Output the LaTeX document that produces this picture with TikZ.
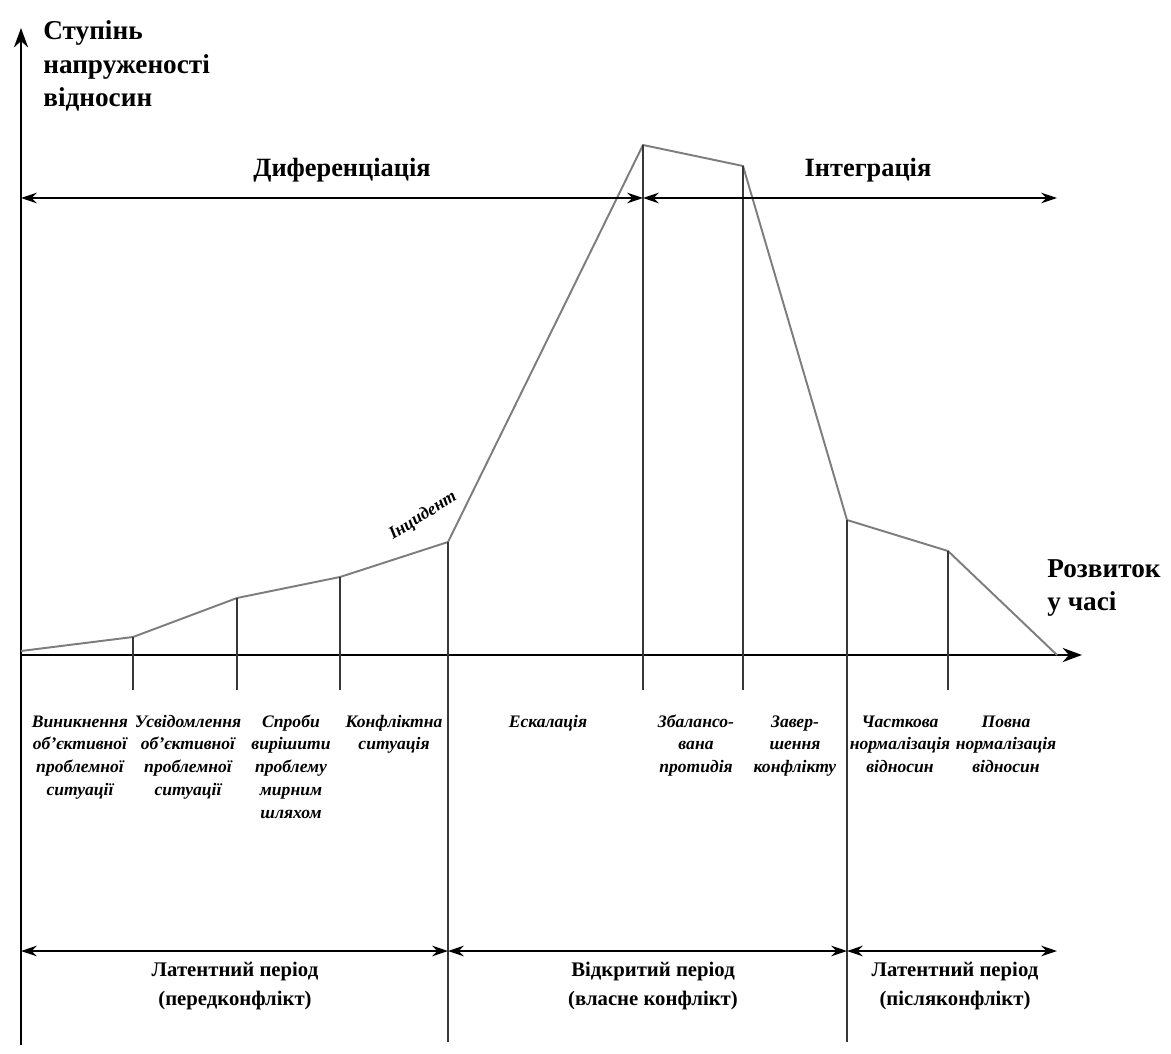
\documentclass[tikz,border=0pt]{standalone}
\usepackage{fontspec}
\setmainfont{Liberation Serif}
\usetikzlibrary{arrows.meta}
\definecolor{curvegray}{RGB}{125,125,125}
\definecolor{tickgray}{RGB}{55,55,55}

\begin{document}
\begin{tikzpicture}[
  x=0.2mm, y=-0.2mm,
  axis/.style={line width=1.6pt, -{Stealth[length=11pt,width=8pt]}},
  curve/.style={line width=1.1pt, draw=curvegray},
  tick/.style={line width=0.8pt, draw=tickgray},
  span/.style={line width=1.1pt, {Stealth[length=9pt,width=6pt]}-{Stealth[length=9pt,width=6pt]}},
  phase/.style={font=\bfseries\fontsize{15}{18}\selectfont},
  axislabel/.style={font=\bfseries\fontsize{15.5}{19}\selectfont, align=left, anchor=west, inner sep=0pt},
  stage/.style={font=\bfseries\itshape\fontsize{10}{13}\selectfont, align=center, anchor=base, inner sep=0pt},
  period/.style={font=\bfseries\fontsize{11.8}{16.5}\selectfont, align=center}
]
\useasboundingbox (0,0) rectangle (1171,1054);

% Axes
\coordinate (o) at (21,655);
\coordinate (ytop) at (21,28);
\coordinate (ybot) at (21,1045);
\coordinate (xend) at (1082,655);
\draw[axis] (ybot) -- (ytop);
\draw[axis] (o) -- (xend);
\node[axislabel] (ylab) at (43,66) {Ступінь\\напруженості\\відносин};
\node[axislabel] (xlab) at (1047,588) {Розвиток\\у часі};

% Tension curve
\coordinate (p0) at (21,651);
\coordinate (p1) at (133,637);
\coordinate (p2) at (237,598);
\coordinate (p3) at (340,577);
\coordinate (p4) at (448,542);
\coordinate (p5) at (643,145);
\coordinate (p6) at (743,166);
\coordinate (p7) at (847,520);
\coordinate (p8) at (948,551);
\coordinate (p9) at (1057,655);
\draw[curve] (p0) -- (p1) -- (p2) -- (p3) -- (p4) -- (p5) -- (p6) -- (p7) -- (p8) -- (p9);
\node[font=\bfseries\itshape\fontsize{10}{12}\selectfont, rotate=32, inner sep=1pt] (inc) at (423,516) {Інцидент};

% Stage borders
\foreach \i in {1,2,3,5,6,8}
  \draw[tick] (p\i) -- (p\i |- 0,690);
\coordinate (b4) at (448,1042);
\coordinate (b7) at (847,1042);
\draw[tick] (p4) -- (b4);
\draw[tick] (p7) -- (b7);

% Differentiation / integration
\coordinate (d0) at (21,198);
\coordinate (d1) at (643,198);
\coordinate (d2) at (1057,198);
\draw[span] (d0) -- (d1);
\draw[span] (d1) -- (d2);
\node[phase] (dif) at (342,170) {Диференціація};
\node[phase] (int) at (868,170) {Інтеграція};

% Stages (base = last line, so shift down by the extra lines)
\node[stage, yshift=-39pt] (s1) at (80,727) {Виникнення\\об'єктивної\\проблемної\\ситуації};
\node[stage, yshift=-39pt] (s2) at (188,727) {Усвідомлення\\об'єктивної\\проблемної\\ситуації};
\node[stage, yshift=-52pt] (s3) at (291,727) {Спроби\\вирішити\\проблему\\мирним\\шляхом};
\node[stage, yshift=-13pt] (s4) at (394,727) {Конфліктна\\ситуація};
\node[stage] (s5) at (548,727) {Ескалація};
\node[stage, yshift=-26pt] (s6) at (696,727) {Збалансо-\\вана\\протидія};
\node[stage, yshift=-26pt] (s7) at (795,727) {Завер-\\шення\\конфлікту};
\node[stage, yshift=-26pt] (s8) at (900,727) {Часткова\\нормалізація\\відносин};
\node[stage, yshift=-26pt] (s9) at (1006,727) {Повна\\нормалізація\\відносин};

% Periods
\coordinate (q0) at (21,951);
\coordinate (q1) at (448,951);
\coordinate (q2) at (847,951);
\coordinate (q3) at (1057,951);
\draw[span] (q0) -- (q1);
\draw[span] (q1) -- (q2);
\draw[span] (q2) -- (q3);
\node[period] (lat1) at (235,986) {Латентний період\\(передконфлікт)};
\node[period] (open) at (653,986) {Відкритий період\\(власне конфлікт)};
\node[period] (lat2) at (955,986) {Латентний період\\(післяконфлікт)};

\end{tikzpicture}
\end{document}
